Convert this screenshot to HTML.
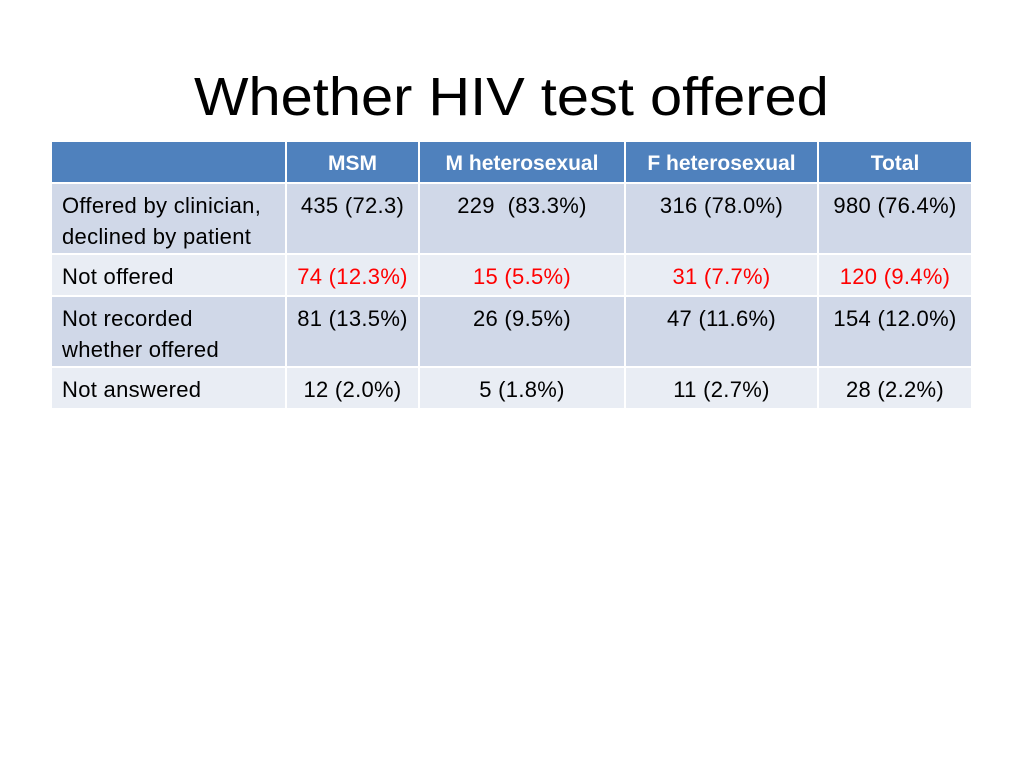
<!DOCTYPE html>
<html><head><meta charset="utf-8"><style>
body{margin:0;width:1024px;height:768px;background:#fff;position:relative;overflow:hidden;font-family:"Liberation Sans",sans-serif}
#title{position:absolute;left:194px;top:62px;font-size:54px;line-height:70px;color:#000;white-space:nowrap;transform:scaleX(1.07);transform-origin:left top}
.c{position:absolute;box-sizing:border-box;font-size:22px;line-height:31px;padding-top:6px;color:#000;white-space:nowrap;letter-spacing:0.3px}
.h{background:#4F81BD;color:#fff;font-weight:bold;text-align:center;padding-top:6px;font-size:21px;letter-spacing:0}
.d{background:#D0D8E8}.l{background:#E9EDF4}
.ctr{text-align:center}.red{color:#ff0000}
.lab{padding-left:10px}
</style></head><body>
<div id="title">Whether HIV test offered</div>
<div id="tbl"></div>
<script>
const cols=["","MSM","M heterosexual","F heterosexual","Total"];
const rowLabels=["Offered by clinician,<br>declined by patient","Not offered","Not recorded<br>whether offered","Not answered"];
const values=[["435 (72.3)","229&nbsp; (83.3%)","316 (78.0%)","980 (76.4%)"],["74 (12.3%)","15 (5.5%)","31 (7.7%)","120 (9.4%)"],["81 (13.5%)","26 (9.5%)","47 (11.6%)","154 (12.0%)"],["12 (2.0%)","5 (1.8%)","11 (2.7%)","28 (2.2%)"]];
const xs=[52,286,419,625,818,972];
const ys=[142,183,254,296,367,409];
const t=document.getElementById('tbl');
function cell(x0,x1,y0,y1,cls,html,name){
 const d=document.createElement('div');
 d.className='c '+cls;
 d.style.left=(x0+(x0>52?1:0))+'px';d.style.top=(y0+(y0>142?1:0))+'px';
 d.style.width=(x1-x0-(x0>52?1:0)-1)+'px';d.style.height=(y1-y0-(y0>142?1:0)-1)+'px';
 d.innerHTML=html;
 
 
 t.appendChild(d);
}
cols.forEach((c,i)=>cell(xs[i],xs[i+1],ys[0],ys[1],'h',c,'header-cell'));
rowLabels.forEach((r,ri)=>{
 const bg=ri%2==0?'d':'l';
 cell(xs[0],xs[1],ys[ri+1],ys[ri+2],bg+' lab',r,'row-label');
 values[ri].forEach((v,ci)=>cell(xs[ci+1],xs[ci+2],ys[ri+1],ys[ri+2],bg+' ctr'+(ri==1?' red':''),v,'data-cell'));
});
</script>
</body></html>
